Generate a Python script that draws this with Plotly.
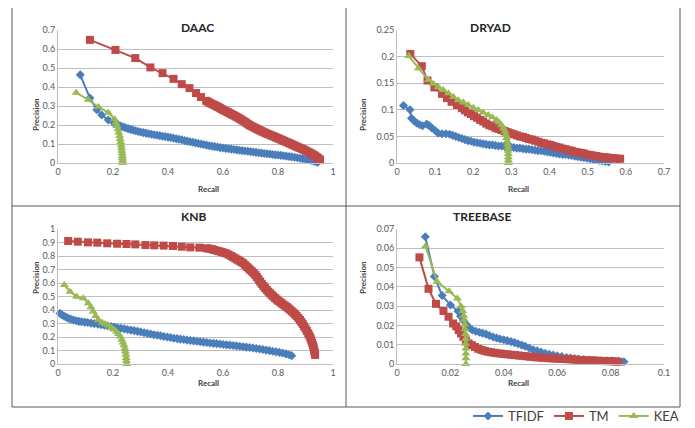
import plotly.graph_objects as go

OFF = 8  # page body margin of the browser
W, H = 695 - OFF, 428 - OFF

# ---------------- data ----------------
daac_tfidf_x = [0.081,0.116,0.141,0.159,0.183,0.205,0.219,0.228,0.237,0.246,0.255,0.264,0.273,0.282,0.291,0.300,0.310,0.320,0.330,0.340,0.350,0.360,0.370,0.380,0.390,0.400,0.410,0.420,0.430,0.440,0.450,0.460,0.470,0.480,0.490,0.500,0.510,0.520,0.530,0.540,0.550,0.560,0.570,0.580,0.590,0.600,0.610,0.620,0.630,0.640,0.650,0.660,0.670,0.680,0.690,0.700,0.710,0.720,0.730,0.740,0.750,0.760,0.770,0.780,0.790,0.800,0.810,0.820,0.830,0.840,0.850,0.860,0.870,0.880,0.890,0.900,0.910,0.920,0.930,0.938,0.945]
daac_tfidf_y = [0.464,0.342,0.280,0.253,0.226,0.208,0.200,0.195,0.190,0.185,0.181,0.177,0.173,0.170,0.166,0.163,0.160,0.157,0.154,0.151,0.149,0.146,0.144,0.141,0.139,0.136,0.134,0.131,0.128,0.125,0.122,0.118,0.115,0.112,0.109,0.106,0.103,0.100,0.097,0.094,0.091,0.089,0.086,0.084,0.081,0.079,0.077,0.075,0.073,0.071,0.069,0.067,0.065,0.063,0.062,0.060,0.058,0.056,0.054,0.052,0.050,0.049,0.047,0.045,0.043,0.042,0.040,0.038,0.036,0.034,0.032,0.030,0.028,0.025,0.023,0.020,0.017,0.013,0.010,0.007,0.004]
daac_tm_x = [0.116,0.209,0.281,0.336,0.380,0.420,0.450,0.478,0.502,0.520,0.539,0.546,0.552,0.558,0.564,0.570,0.576,0.582,0.588,0.594,0.600,0.606,0.612,0.618,0.624,0.630,0.636,0.642,0.648,0.654,0.660,0.666,0.672,0.678,0.684,0.690,0.696,0.702,0.708,0.714,0.720,0.726,0.732,0.738,0.744,0.750,0.756,0.762,0.768,0.774,0.780,0.786,0.792,0.798,0.804,0.810,0.816,0.822,0.828,0.834,0.840,0.846,0.852,0.858,0.864,0.870,0.876,0.882,0.888,0.894,0.900,0.906,0.912,0.918,0.924,0.930,0.936,0.942,0.947,0.951,0.953]
daac_tm_y = [0.648,0.595,0.552,0.503,0.473,0.443,0.415,0.394,0.368,0.347,0.327,0.322,0.317,0.312,0.308,0.304,0.299,0.295,0.290,0.285,0.280,0.276,0.271,0.267,0.262,0.258,0.253,0.249,0.244,0.239,0.234,0.229,0.223,0.218,0.212,0.206,0.200,0.195,0.191,0.186,0.182,0.177,0.173,0.169,0.165,0.161,0.157,0.153,0.150,0.146,0.142,0.139,0.135,0.131,0.128,0.124,0.120,0.116,0.112,0.109,0.105,0.101,0.097,0.093,0.089,0.085,0.081,0.078,0.074,0.070,0.066,0.061,0.057,0.052,0.047,0.042,0.036,0.030,0.024,0.019,0.015]
daac_kea_x = [0.066,0.110,0.147,0.183,0.205,0.210,0.214,0.218,0.221,0.224,0.226,0.228,0.230,0.231,0.232,0.233,0.234,0.234,0.235,0.235,0.235]
daac_kea_y = [0.370,0.333,0.295,0.265,0.232,0.212,0.195,0.178,0.160,0.143,0.126,0.110,0.094,0.079,0.065,0.051,0.038,0.026,0.015,0.007,0.0]

dryad_tfidf_x = [0.017,0.034,0.038,0.045,0.052,0.060,0.067,0.078,0.085,0.091,0.100,0.108,0.118,0.128,0.138,0.146,0.154,0.162,0.170,0.178,0.186,0.194,0.202,0.210,0.218,0.226,0.234,0.242,0.250,0.258,0.266,0.274,0.282,0.290,0.298,0.306,0.314,0.322,0.330,0.338,0.346,0.354,0.362,0.370,0.378,0.386,0.394,0.402,0.410,0.418,0.426,0.434,0.442,0.450,0.458,0.466,0.474,0.482,0.490,0.498,0.506,0.514,0.522,0.530,0.538,0.546,0.555]
dryad_tfidf_y = [0.108,0.100,0.084,0.079,0.075,0.072,0.070,0.073,0.070,0.066,0.061,0.056,0.055,0.055,0.054,0.052,0.050,0.048,0.046,0.044,0.042,0.041,0.039,0.038,0.037,0.036,0.035,0.034,0.034,0.033,0.032,0.032,0.031,0.031,0.030,0.029,0.028,0.028,0.027,0.026,0.026,0.025,0.024,0.023,0.023,0.022,0.021,0.020,0.019,0.018,0.017,0.016,0.016,0.015,0.014,0.013,0.012,0.011,0.010,0.009,0.008,0.007,0.006,0.005,0.004,0.003,0.002]
dryad_tm_x = [0.035,0.065,0.080,0.098,0.118,0.131,0.143,0.157,0.170,0.178,0.186,0.194,0.202,0.210,0.218,0.226,0.234,0.242,0.250,0.258,0.266,0.274,0.282,0.290,0.298,0.306,0.314,0.322,0.330,0.338,0.346,0.354,0.362,0.370,0.378,0.386,0.394,0.402,0.410,0.418,0.426,0.434,0.442,0.450,0.458,0.466,0.474,0.482,0.490,0.498,0.506,0.514,0.522,0.530,0.538,0.546,0.554,0.562,0.570,0.578,0.585]
dryad_tm_y = [0.205,0.182,0.155,0.142,0.130,0.122,0.115,0.109,0.103,0.099,0.095,0.092,0.088,0.085,0.081,0.078,0.074,0.071,0.069,0.066,0.064,0.062,0.060,0.058,0.056,0.054,0.052,0.050,0.049,0.047,0.045,0.044,0.042,0.040,0.038,0.037,0.035,0.034,0.032,0.030,0.029,0.027,0.026,0.024,0.023,0.021,0.020,0.019,0.018,0.016,0.015,0.014,0.013,0.012,0.011,0.011,0.010,0.009,0.009,0.008,0.008]
dryad_kea_x = [0.031,0.056,0.082,0.095,0.108,0.121,0.135,0.148,0.161,0.174,0.187,0.200,0.213,0.226,0.239,0.250,0.261,0.268,0.274,0.279,0.283,0.285,0.287,0.289,0.290,0.291,0.291,0.292,0.292,0.292,0.292]
dryad_kea_y = [0.201,0.178,0.156,0.149,0.143,0.137,0.131,0.124,0.118,0.114,0.109,0.104,0.0996,0.095,0.090,0.086,0.081,0.076,0.071,0.065,0.059,0.053,0.047,0.041,0.035,0.029,0.023,0.017,0.011,0.005,0.0]

knb_tfidf_x = [0.007,0.014,0.022,0.030,0.038,0.047,0.056,0.066,0.076,0.086,0.097,0.108,0.120,0.132,0.145,0.157,0.169,0.181,0.193,0.205,0.217,0.229,0.241,0.253,0.265,0.277,0.289,0.301,0.313,0.325,0.337,0.349,0.361,0.373,0.385,0.397,0.409,0.421,0.433,0.445,0.457,0.469,0.481,0.493,0.505,0.517,0.529,0.541,0.553,0.565,0.577,0.589,0.601,0.613,0.625,0.637,0.649,0.661,0.673,0.685,0.697,0.709,0.721,0.733,0.745,0.757,0.769,0.781,0.793,0.805,0.817,0.829,0.840,0.850]
knb_tfidf_y = [0.375,0.365,0.355,0.346,0.338,0.332,0.326,0.320,0.316,0.313,0.310,0.307,0.303,0.299,0.295,0.291,0.287,0.282,0.278,0.274,0.269,0.265,0.260,0.256,0.251,0.247,0.242,0.237,0.232,0.227,0.222,0.217,0.213,0.209,0.204,0.200,0.196,0.191,0.188,0.184,0.181,0.177,0.174,0.171,0.168,0.165,0.162,0.159,0.156,0.153,0.151,0.148,0.145,0.142,0.140,0.137,0.134,0.131,0.128,0.125,0.122,0.118,0.115,0.111,0.107,0.103,0.099,0.094,0.090,0.086,0.081,0.075,0.068,0.062]
knb_tm_x = [0.037,0.072,0.109,0.143,0.179,0.215,0.249,0.281,0.318,0.350,0.384,0.418,0.450,0.481,0.514,0.541,0.550,0.560,0.568,0.577,0.586,0.595,0.604,0.613,0.621,0.630,0.637,0.645,0.652,0.660,0.667,0.674,0.681,0.688,0.694,0.700,0.706,0.712,0.718,0.723,0.729,0.735,0.741,0.747,0.753,0.759,0.765,0.771,0.777,0.783,0.789,0.795,0.801,0.808,0.814,0.820,0.826,0.832,0.838,0.844,0.850,0.856,0.862,0.868,0.874,0.880,0.885,0.890,0.895,0.900,0.905,0.910,0.914,0.918,0.921,0.924,0.927,0.929,0.931,0.932,0.934,0.935]
knb_tm_y = [0.911,0.906,0.901,0.899,0.894,0.891,0.889,0.886,0.881,0.879,0.877,0.874,0.869,0.864,0.862,0.857,0.854,0.850,0.845,0.840,0.835,0.830,0.824,0.818,0.810,0.800,0.791,0.782,0.773,0.764,0.755,0.746,0.732,0.718,0.707,0.695,0.684,0.672,0.659,0.645,0.628,0.610,0.594,0.578,0.563,0.549,0.536,0.524,0.512,0.500,0.489,0.478,0.468,0.458,0.449,0.440,0.431,0.422,0.412,0.402,0.391,0.380,0.368,0.355,0.341,0.326,0.311,0.296,0.279,0.262,0.245,0.227,0.210,0.192,0.175,0.158,0.141,0.125,0.110,0.095,0.081,0.067]
knb_kea_x = [0.023,0.044,0.068,0.092,0.110,0.120,0.128,0.137,0.147,0.160,0.172,0.183,0.193,0.203,0.213,0.220,0.226,0.232,0.236,0.240,0.243,0.245,0.247,0.248,0.249,0.250]
knb_kea_y = [0.585,0.536,0.499,0.487,0.450,0.420,0.388,0.355,0.326,0.307,0.296,0.285,0.270,0.255,0.239,0.222,0.203,0.180,0.160,0.138,0.115,0.092,0.068,0.045,0.022,0.0]

tb_tfidf_x = [0.0106,0.0140,0.0169,0.0200,0.0229,0.0238,0.0249,0.0260,0.0270,0.0282,0.0295,0.0308,0.0320,0.0333,0.0346,0.0360,0.0373,0.0386,0.0400,0.0413,0.0427,0.0440,0.0453,0.0467,0.0480,0.0495,0.0510,0.0525,0.0540,0.0555,0.0570,0.0585,0.0600,0.0617,0.0635,0.0650,0.0665,0.0680,0.0700,0.0720,0.0742,0.0765,0.0785,0.0805,0.0830,0.0850]
tb_tfidf_y = [0.066,0.0454,0.0355,0.0306,0.0273,0.0248,0.0225,0.0205,0.0188,0.0176,0.0170,0.0165,0.0160,0.0155,0.0148,0.0140,0.0135,0.0130,0.0126,0.0121,0.0116,0.0111,0.0105,0.0098,0.0092,0.0083,0.0074,0.0068,0.0062,0.0055,0.0050,0.0046,0.0042,0.0038,0.0034,0.0031,0.0028,0.0026,0.0023,0.0021,0.0018,0.0017,0.0016,0.0016,0.0014,0.0012]
tb_tm_x = [0.0084,0.0118,0.0146,0.0174,0.0193,0.0210,0.0222,0.0231,0.0240,0.0249,0.0258,0.0268,0.0280,0.0292,0.0304,0.0316,0.0328,0.0340,0.0352,0.0364,0.0376,0.0388,0.0400,0.0414,0.0428,0.0442,0.0456,0.0470,0.0484,0.0498,0.0512,0.0526,0.0540,0.0554,0.0568,0.0582,0.0596,0.0610,0.0624,0.0638,0.0652,0.0666,0.0680,0.0694,0.0708,0.0722,0.0736,0.0750,0.0764,0.0778,0.0792,0.0806,0.0818,0.0829]
tb_tm_y = [0.0553,0.0390,0.0312,0.0275,0.0245,0.0210,0.0195,0.0176,0.0158,0.0140,0.0122,0.0107,0.0098,0.0088,0.0079,0.0073,0.0068,0.0064,0.0061,0.0058,0.0056,0.0054,0.0052,0.0050,0.0048,0.0046,0.0044,0.0042,0.0040,0.0038,0.0036,0.0034,0.0033,0.0032,0.0030,0.0029,0.0028,0.0027,0.0026,0.0025,0.0024,0.0023,0.0021,0.0020,0.0019,0.0019,0.0018,0.0017,0.0016,0.0015,0.0015,0.0014,0.0013,0.0012]
tb_kea_x = [0.0107,0.0150,0.0195,0.0226,0.0240,0.0246,0.0250,0.0252,0.0254,0.0255,0.0256,0.0257,0.0257,0.0258,0.0258,0.0258,0.0258]
tb_kea_y = [0.0611,0.0427,0.0377,0.0340,0.0300,0.0275,0.0250,0.0230,0.0205,0.0180,0.0155,0.0130,0.0105,0.0080,0.0055,0.0030,0.0]

series_names = ["TFIDF", "TM", "KEA"]

panels = [
    dict(title="DAAC", data=[(daac_tfidf_x, daac_tfidf_y), (daac_tm_x, daac_tm_y), (daac_kea_x, daac_kea_y)],
         xr=[0, 1], xd=0.2, yr=[0, 0.7], yd=0.1),
    dict(title="DRYAD", data=[(dryad_tfidf_x, dryad_tfidf_y), (dryad_tm_x, dryad_tm_y), (dryad_kea_x, dryad_kea_y)],
         xr=[0, 0.7], xd=0.1, yr=[0, 0.25], yd=0.05),
    dict(title="KNB", data=[(knb_tfidf_x, knb_tfidf_y), (knb_tm_x, knb_tm_y), (knb_kea_x, knb_kea_y)],
         xr=[0, 1], xd=0.2, yr=[0, 1], yd=0.1),
    dict(title="TREEBASE", data=[(tb_tfidf_x, tb_tfidf_y), (tb_tm_x, tb_tm_y), (tb_kea_x, tb_kea_y)],
         xr=[0, 0.1], xd=0.02, yr=[0, 0.07], yd=0.01),
]

# ---------------- styling ----------------
colors = ["#4A7EBB", "#BE4B48", "#98B954"]
symbols = ["diamond", "square", "triangle-up"]
msizes = [7, 8, 8]
FONT = "Lato, 'Liberation Sans', Arial, sans-serif"

def px(xp):
    return (xp - OFF) / W

def py(yp):
    return 1 - (yp - OFF) / H

# pixel geometry (page pixels) of the plot areas: (x_left, x_right, y_top, y_bottom)
areas = [(58, 333, 30, 163), (397, 664, 30, 163), (58, 333, 229, 364), (397, 664, 229, 364)]
chart_boxes = [(12, 346, 5, 206), (346, 680, 5, 206), (12, 346, 206, 407), (346, 680, 206, 407)]
title_y = [18, 18, 216, 216]

fig = go.Figure()
layout = dict(
    width=W, height=H,
    margin=dict(l=0, r=0, t=0, b=0, autoexpand=False),
    paper_bgcolor="white", plot_bgcolor="white",
    font=dict(family=FONT, color="#404040"),
    showlegend=True,
    legend=dict(orientation="h", x=px(684), xanchor="right", y=py(416), yanchor="middle",
                font=dict(size=13, color="#404040"), bgcolor="rgba(0,0,0,0)",
                itemwidth=30, tracegroupgap=0),
)
annotations = []
shapes = []

for i, p in enumerate(panels):
    k = "" if i == 0 else str(i + 1)
    xl, xr_, yt, yb = areas[i]
    layout["xaxis" + k] = dict(
        domain=[px(xl), px(xr_)], range=p["xr"], dtick=p["xd"], tick0=0,
        anchor="y" + k, showgrid=False, zeroline=False, automargin=False,
        showline=True, linecolor="#BFBFBF", linewidth=1,
        tickfont=dict(size=9, color="#595959", family=FONT), ticks="",
    )
    layout["yaxis" + k] = dict(
        domain=[py(yb), py(yt)], range=p["yr"], dtick=p["yd"], tick0=0,
        anchor="x" + k, showgrid=True, gridcolor="#BFBFBF", gridwidth=1, zeroline=False,
        showline=True, linecolor="#BFBFBF", linewidth=1, automargin=False,
        tickfont=dict(size=9, color="#595959", family=FONT), ticks="",
    )
    for j, (xs, ys) in enumerate(p["data"]):
        fig.add_trace(go.Scatter(
            x=xs, y=ys, mode="lines+markers", name=series_names[j],
            legendgroup=series_names[j], showlegend=(i == 0),
            xaxis="x" + k, yaxis="y" + k, cliponaxis=False,
            line=dict(color=colors[j], width=2),
            marker=dict(symbol=symbols[j], size=msizes[j], color=colors[j]),
        ))
    bx0, bx1, by0, by1 = chart_boxes[i]
    annotations.append(dict(text="<b>%s</b>" % p["title"], x=px((bx0 + bx1) / 2), y=py(title_y[i]),
                            xref="paper", yref="paper", showarrow=False,
                            font=dict(size=12, color="#262626", family=FONT)))
    annotations.append(dict(text="<b>Recall</b>", x=px((xl + xr_) / 2), y=py(yb + 26),
                            xref="paper", yref="paper", showarrow=False,
                            font=dict(size=8, color="#404040", family=FONT)))
    annotations.append(dict(text="<b>Precision</b>", x=px(bx0 + 17), y=py((yt + yb) / 2),
                            xref="paper", yref="paper", showarrow=False, textangle=-90,
                            font=dict(size=8, color="#404040", family=FONT)))

# panel borders
line_style = dict(color="#595959", width=1)
shapes.append(dict(type="rect", xref="paper", yref="paper", x0=px(12), x1=px(680), y0=py(407), y1=py(5), line=line_style))
shapes.append(dict(type="line", xref="paper", yref="paper", x0=px(346), x1=px(346), y0=py(407), y1=py(5), line=line_style))
shapes.append(dict(type="line", xref="paper", yref="paper", x0=px(12), x1=px(680), y0=py(206), y1=py(206), line=line_style))

layout["annotations"] = annotations
layout["shapes"] = shapes
fig.update_layout(**layout)
fig.write_html("out.html")
